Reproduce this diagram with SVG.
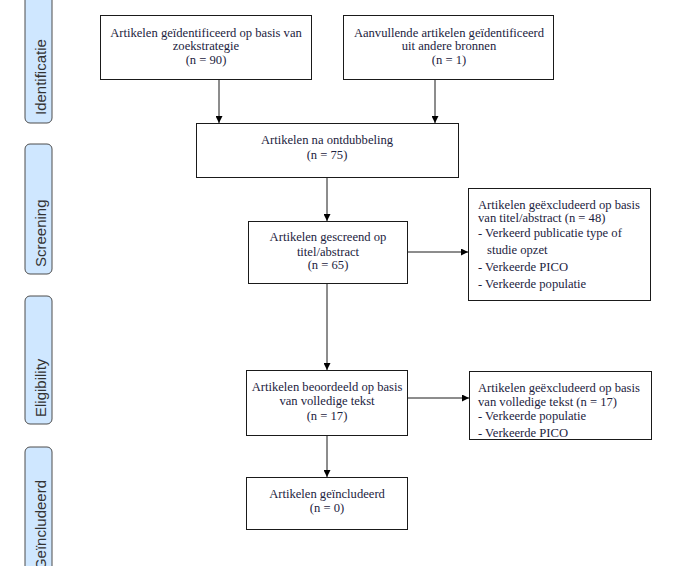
<svg xmlns="http://www.w3.org/2000/svg" width="679" height="566" viewBox="0 0 679 566">
<style>
.tab{fill:#cfe7ff;stroke:#4d4d4d;stroke-width:1}
.tabt{font-family:"Liberation Sans",Arial,sans-serif;font-size:15px;fill:#333;text-anchor:start}
.box{fill:#fff;stroke:#1a1a1a;stroke-width:1}
.t{font-family:"Liberation Serif","Times New Roman",serif;font-size:12.6px;fill:#1c2340}
.c{text-anchor:middle}
.ln{stroke:#1a1a1a;stroke-width:1;fill:none;marker-end:url(#ah)}
</style>
<defs>
<marker id="ah" viewBox="0 0 10 10" refX="10" refY="5" markerWidth="7" markerHeight="7" markerUnits="userSpaceOnUse" orient="auto">
<path d="M0,0 L10,5 L0,10 z" fill="#000"/>
</marker>
</defs>
<rect width="679" height="566" fill="#fff"/>
<g id="tab-identificatie"><rect class="tab" x="25" y="-6" width="27" height="129" rx="5"/><text class="tabt" transform="translate(46,115) rotate(-90)">Identificatie</text></g>
<g id="tab-screening"><rect class="tab" x="25" y="144" width="27" height="130" rx="5"/><text class="tabt" transform="translate(46,267) rotate(-90)">Screening</text></g>
<g id="tab-eligibility"><rect class="tab" x="25" y="296" width="27" height="128" rx="5"/><text class="tabt" transform="translate(46,417) rotate(-90)">Eligibility</text></g>
<g id="tab-geincludeerd"><rect class="tab" x="25" y="447" width="27" height="130" rx="5"/><text class="tabt" style="text-anchor:end" transform="translate(46,480) rotate(-90)">Geïncludeerd</text></g>

<g id="connectors">
<line class="ln" x1="219" y1="80" x2="219" y2="123"/>
<line class="ln" x1="435" y1="80" x2="435" y2="123"/>
<line class="ln" x1="327" y1="177" x2="327" y2="221"/>
<line class="ln" x1="407" y1="252" x2="468" y2="252"/>
<line class="ln" x1="327" y1="283" x2="327" y2="370"/>
<line class="ln" x1="407" y1="398" x2="469" y2="398"/>
<line class="ln" x1="327" y1="435" x2="327" y2="477"/>
</g>

<g id="box-a"><rect class="box" x="100.5" y="15.5" width="211" height="64"/>
<text class="t c" x="206" y="37">Artikelen geïdentificeerd op basis van</text>
<text class="t c" x="206" y="50">zoekstrategie</text>
<text class="t c" x="206" y="64">(n = 90)</text></g>

<g id="box-b"><rect class="box" x="343.5" y="15.5" width="210" height="64"/>
<text class="t c" x="449" y="37">Aanvullende artikelen geïdentificeerd</text>
<text class="t c" x="449" y="50">uit andere bronnen</text>
<text class="t c" x="449" y="64">(n = 1)</text></g>

<g id="box-c"><rect class="box" x="196.5" y="123.5" width="262" height="54"/>
<text class="t c" x="327" y="144">Artikelen na ontdubbeling</text>
<text class="t c" x="327" y="159">(n = 75)</text></g>

<g id="box-d"><rect class="box" x="248.5" y="221.5" width="159" height="62"/>
<text class="t c" x="328" y="241">Artikelen gescreend op</text>
<text class="t c" x="328" y="256">titel/abstract</text>
<text class="t c" x="328" y="269">(n = 65)</text></g>

<g id="box-e"><rect class="box" x="468.5" y="188.5" width="182" height="112"/>
<text class="t" x="478" y="209">Artikelen geëxcludeerd op basis</text>
<text class="t" x="478" y="222">van titel/abstract (n = 48)</text>
<text class="t" x="478" y="237">-  Verkeerd publicatie type of</text>
<text class="t" x="487" y="254">studie opzet</text>
<text class="t" x="478" y="271">-  Verkeerde PICO</text>
<text class="t" x="478" y="288">-  Verkeerde populatie</text></g>

<g id="box-f"><rect class="box" x="246.5" y="370.5" width="161" height="65"/>
<text class="t c" x="327" y="391">Artikelen beoordeeld op basis</text>
<text class="t c" x="327" y="405">van volledige tekst</text>
<text class="t c" x="327" y="420">(n = 17)</text></g>

<g id="box-h"><rect class="box" x="469.5" y="371.5" width="182" height="68"/>
<text class="t" x="478" y="392">Artikelen geëxcludeerd op basis</text>
<text class="t" x="478" y="406">van volledige tekst (n = 17)</text>
<text class="t" x="478" y="420">-  Verkeerde populatie</text>
<text class="t" x="478" y="437">-  Verkeerde PICO</text></g>

<g id="box-g"><rect class="box" x="246.5" y="477.5" width="161" height="52"/>
<text class="t c" x="327" y="498">Artikelen geïncludeerd</text>
<text class="t c" x="327" y="512">(n = 0)</text></g>
</svg>
